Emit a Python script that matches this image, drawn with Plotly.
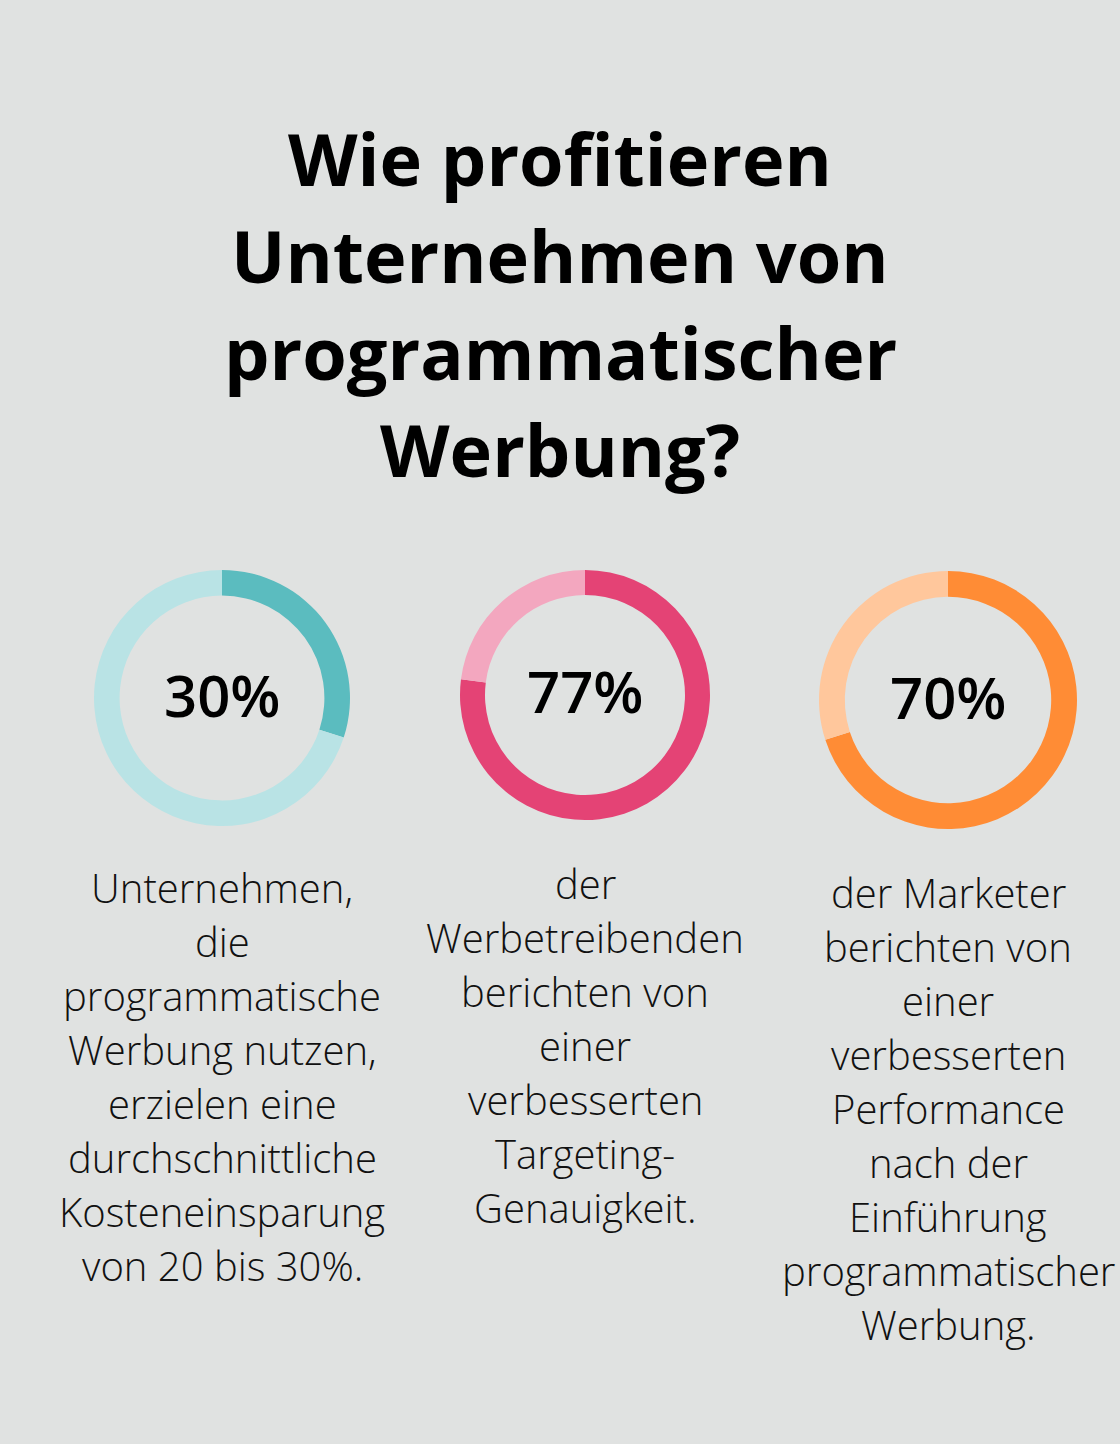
import plotly.graph_objects as go

title_lines = ["Wie profitieren", "Unternehmen von", "programmatischer", "Werbung?"]
percent_values = [30, 77, 70]
percent_labels = ["30%", "77%", "70%"]
descriptions = [
    ["Unternehmen,", "die", "programmatische", "Werbung nutzen,", "erzielen eine",
     "durchschnittliche", "Kosteneinsparung", "von 20 bis 30%."],
    ["der", "Werbetreibenden", "berichten von", "einer", "verbesserten",
     "Targeting-", "Genauigkeit."],
    ["der Marketer", "berichten von", "einer", "verbesserten", "Performance",
     "nach der", "Einführung", "programmatischer", "Werbung."],
]
dark_colors = ["#5BBCBF", "#E44375", "#FF8C35"]
light_colors = ["#B9E3E5", "#F3A7BF", "#FFC79C"]

W, H = 1120, 1444
BG = "#E0E2E1"

# donut geometry in pixels (center x, center y, radius)
donuts = [(222, 698, 128), (585, 695, 125), (948, 700, 129)]
pct_y = [694, 691, 696]
desc_first_y = [887, 883, 892]
desc_line_gap = 54
title_first_y = 158
title_line_gap = 97

fig = go.Figure()
for i, v in enumerate(percent_values):
    cx, cy, r = donuts[i]
    fig.add_trace(go.Pie(
        values=[v, 100 - v],
        labels=["a", "b"],
        marker=dict(colors=[dark_colors[i], light_colors[i]], line=dict(width=0)),
        hole=0.8,
        sort=False,
        direction="clockwise",
        rotation=0,
        textinfo="none",
        hoverinfo="skip",
        showlegend=False,
        domain=dict(x=[(cx - r) / W, (cx + r) / W],
                    y=[1 - (cy + r) / H, 1 - (cy - r) / H]),
    ))

annotations = []
for k, line in enumerate(title_lines):
    annotations.append(dict(
        x=560 / W, y=1 - (title_first_y + k * title_line_gap) / H,
        xref="paper", yref="paper",
        text=line, showarrow=False,
        xanchor="center", yanchor="middle",
        font=dict(family="Open Sans", size=72, color="#000000", weight=700),
    ))
for i in range(3):
    cx = donuts[i][0]
    annotations.append(dict(
        x=cx / W, y=1 - pct_y[i] / H, xref="paper", yref="paper",
        text=percent_labels[i], showarrow=False,
        xanchor="center", yanchor="middle",
        font=dict(family="Open Sans", size=58, color="#000000", weight=600),
    ))
    for k, line in enumerate(descriptions[i]):
        annotations.append(dict(
            x=cx / W, y=1 - (desc_first_y[i] + k * desc_line_gap) / H,
            xref="paper", yref="paper",
            text=line, showarrow=False,
            xanchor="center", yanchor="middle",
            font=dict(family="Open Sans", size=40, color="#111111", weight=300),
        ))

fig.update_layout(
    width=W, height=H,
    margin=dict(l=0, r=0, t=0, b=0),
    paper_bgcolor=BG, plot_bgcolor=BG,
    annotations=annotations,
)
fig.write_html(
    "out.html",
    config={"displayModeBar": False},
    post_script="document.body.style.margin='0';document.body.style.background='%s';" % BG,
)
